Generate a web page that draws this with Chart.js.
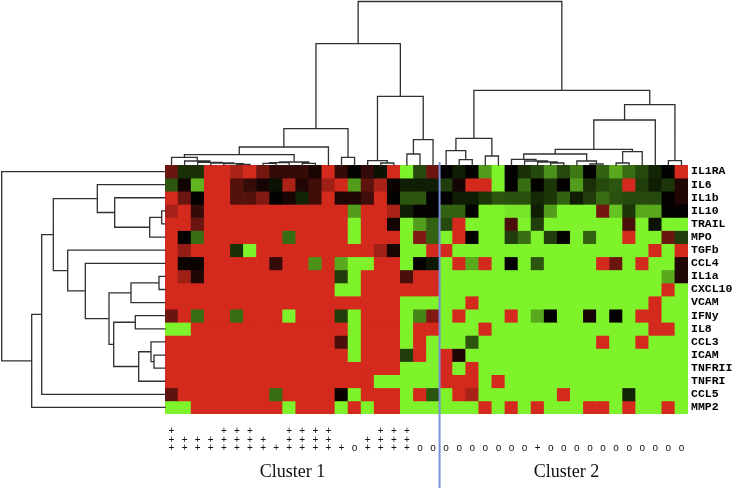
<!DOCTYPE html>
<html><head><meta charset="utf-8">
<script src="https://cdn.jsdelivr.net/npm/chart.js@4.4.1/dist/chart.umd.min.js"></script>
<style>html,body{margin:0;padding:0;background:#fff;}canvas{display:block;}</style>
</head><body>
<canvas id="c" width="738" height="488"></canvas>
<script>
// ---------- DATA ----------
const genes = ["IL1RA","IL6","IL1b","IL10","TRAIL","MPO","TGFb","CCL4","IL1a","CXCL10","VCAM","IFNy","IL8","CCL3","ICAM","TNFRII","TNFRI","CCL5","MMP2"];

// expression (+1 = red/high, 0 = black, -1 = green/low), rows = genes, cols = samples (dendrogram order)
const rowIL1RA  = [0.5,-0.2,-0.2,1,1,0.8,1,0.55,0.25,0.25,0.25,0.12,1,0.25,0.02,0.25,-0.08,1,-1,-0.3,0.5,0.02,-0.12,0.02,-0.65,-1,0.02,-0.2,-0.3,-0.6,-0.3,-0.5,0.02,-0.4,-0.7,-0.45,-0.3,-0.15,0.02,1];
const rowIL6    = [-0.35,0.08,-0.75,1,1,0.4,0.25,0.1,-0.08,0.8,0.15,0.3,0.75,1,-0.65,0.45,0.8,0.05,-0.12,-0.12,-0.12,-0.25,0.1,1,1,-1,0.02,-0.45,0.02,-0.22,0.02,-0.65,-0.2,-0.3,-0.35,1,-0.25,-0.12,-0.22,0.15];
const rowIL1b   = [1,0.5,0.02,1,1,0.4,0.4,0.6,0.02,0.12,-0.15,0.3,1,0.15,0.15,0.3,1,0.02,-0.35,-0.35,0.02,0.02,-0.12,-0.12,-0.22,-0.35,-0.33,-0.33,-0.17,-0.22,-0.4,-0.12,-0.25,-0.45,-0.33,-0.3,-0.3,-0.3,0.03,0.15];
const rowIL10   = [0.78,1,0.25,1,1,1,1,1,1,1,1,1,1,1,-0.65,1,1,0.8,-0.12,0.03,0.02,-0.4,-0.4,0.02,-1,-1,-0.95,-0.95,-0.12,-0.65,-1,-1,-1,0.55,-0.8,-0.22,-0.7,-0.7,0.02,0.02];
const rowTRAIL  = [1,1,0.5,1,1,1,1,1,1,1,1,1,1,1,-1,1,1,0.08,-1,-0.65,-0.4,-0.3,1,-1,-1,-1,0.35,-1,-0.25,-1,-1,-1,-1,-1,-1,0.35,-1,-0.08,-1,-1];
const rowMPO    = [1,0.02,-0.45,1,1,1,1,1,1,-0.45,1,1,1,1,-1,1,1,1,-1,0.6,-0.4,-1,1,0.02,-1,-1,-0.25,-0.45,-1,-0.25,0.02,-1,-0.4,-1,-1,1,-1,-1,0.5,-0.25];
const rowTGFb   = [1,0.7,1,1,1,-0.2,-1,1,1,1,1,1,1,1,1,1,0.75,0.12,-1,-1,1,1,-1,-1,-1,-1,-1,-1,-1,-1,-1,-1,-1,-1,-1,-1,-1,1,-1,1];
const rowCCL4   = [1,0.05,0.05,1,1,1,1,1,0.25,1,1,-0.6,1,-0.7,-1,-1,1,1,-1,0.02,-0.1,-1,1,-0.7,1,-1,0.02,-1,-0.35,-1,-1,-1,-1,1,0.5,-1,1,-1,-1,0.15];
const rowIL1a   = [1,0.75,0.15,1,1,1,1,1,1,1,1,1,1,-0.25,-1,1,1,1,0.35,1,1,-1,-1,-1,-1,-1,-1,-1,-1,-1,-1,-1,-1,-1,-1,-1,-1,-1,-0.7,0.15];
const rowCXCL10 = [1,1,1,1,1,1,1,1,1,1,1,1,1,-1,-1,1,1,1,1,1,1,-1,-1,-1,-1,-1,-1,-1,-1,-1,-1,-1,-1,-1,-1,-1,-1,-1,1,-1];
const rowVCAM   = [1,1,1,1,1,1,1,1,1,1,1,1,1,1,1,1,1,1,-1,-1,-1,-1,-1,1,-1,-1,-1,-1,-1,-1,-1,-1,-1,-1,-1,-1,-1,1,-1,-1];
const rowIFNy   = [0.5,1,-0.45,1,1,-0.45,1,1,1,-1,1,1,1,-0.25,-1,1,1,1,-1,-0.55,0.6,-1,1,-1,-1,-1,1,-1,-0.7,0.02,-1,-1,0.1,-1,0.02,-1,1,1,-1,-1];
const rowIL8    = [-1,-1,1,1,1,1,1,1,1,1,1,1,1,1,-1,1,1,1,-1,1,1,-1,-1,-1,1,-1,-1,-1,-1,-1,-1,-1,-1,-1,-1,-1,-1,1,1,-1];
const rowCCL3   = [1,1,1,1,1,1,1,1,1,1,1,1,1,0.35,-1,1,1,1,-1,1,-1,-1,-1,-0.35,-1,-1,-1,-1,-1,-1,-1,-1,-1,1,-1,-1,1,-1,-1,-1];
const rowICAM   = [1,1,1,1,1,1,1,1,1,1,1,1,1,1,-1,1,1,1,-0.25,1,-1,1,0.15,-1,-1,-1,-1,-1,-1,-1,-1,-1,-1,-1,-1,-1,-1,-1,-1,-1];
const rowTNFRII = [1,1,1,1,1,1,1,1,1,1,1,1,1,1,1,1,1,1,-1,-1,-1,1,-1,1,-1,-1,-1,-1,-1,-1,-1,-1,-1,-1,-1,-1,-1,-1,-1,-1];
const rowTNFRI  = [1,1,1,1,1,1,1,1,1,1,1,1,1,1,1,1,-1,-1,-1,-1,-1,1,1,1,-1,1,-1,-1,-1,-1,-1,-1,-1,-1,-1,-1,-1,-1,-1,-1];
const rowCCL5   = [0.45,1,1,1,1,1,1,1,-0.45,1,1,1,1,0.05,-1,1,1,1,-1,1,-0.35,-1,1,0.8,-1,-1,-1,-1,-1,-1,1,-1,-1,-1,-1,-0.15,-1,-1,-1,-1];
const rowMMP2   = [-1,-1,1,1,1,1,1,1,1,-1,1,1,1,-1,1,-1,1,1,-1,-1,-1,-1,-1,-1,1,-1,1,-1,1,-1,-1,-1,1,1,-1,1,-1,-1,1,-1];
const expression = [rowIL1RA,rowIL6,rowIL1b,rowIL10,rowTRAIL,rowMPO,rowTGFb,rowCCL4,rowIL1a,rowCXCL10,rowVCAM,rowIFNy,rowIL8,rowCCL3,rowICAM,rowTNFRII,rowTNFRI,rowCCL5,rowMMP2];

// sample annotation symbols (three lines under each column)
const symLine1 = ["+","","","","+","+","+","","","+","+","+","+","","","","+","+","+","","","","","","","","","","","","","","","","","","","","",""];
const symLine2 = ["+","+","+","+","+","+","+","+","","+","+","+","+","","","+","+","+","+","","","","","","","","","","","","","","","","","","","","",""];
const symLine3 = ["+","+","+","+","+","+","+","+","+","+","+","+","+","+","o","+","+","+","+","o","o","o","o","o","o","o","o","o","+","o","o","o","o","o","o","o","o","o","o","o"];

const clusterNames = ["Cluster 1","Cluster 2"];
const clusterLabelAt = [9.25, 30.2];   // column units
const clusterSplit = 20.5;             // boundary between cluster 1 and 2 (column units)

// column dendrogram: [node, left, right, height]; numbers = leaf columns
const colMerges = [
 ["a1",5,6,0.7],["a2",4,"a1",1.3],["a3",3,"a2",2],["a4",2,"a3",2.7],["Q",1,"a4",4],["P",0,"Q",7.7],
 ["n78",7,8,1.7],["n789","n78",9,2.3],["n1011",10,11,1.7],["S","n789","n1011",3],
 ["T","P","S",10.3],["U","T",12,18],["n1314",13,14,7.7],["V","U","n1314",36.3],
 ["n1617",16,17,2],["W",15,"n1617",4.3],["n1819",18,19,11],["X1","n1819",20,25.3],["Y1","W","X1",68.7],
 ["C1","V","Y1",121.3],
 ["n2223",22,23,5.3],["na",21,"n2223",14.3],["n2425",24,25,9],["M5","na","n2425",26.7],
 ["n2930",29,30,2],["n28",28,"n2930",3],["X",27,"n28",4],["L1",26,"X",5.7],
 ["n3233",32,33,1],["R1",31,"n3233",4],["M1","L1","R1",11],
 ["n3435",34,35,2],["R2","n3435",36,13.3],["M2","M1","R2",15.7],["M3","M2",37,45],
 ["n3839",38,39,4.3],["M4","M3","n3839",60.3],["C2","M5","M4",74.7],
 ["root","C1","C2",163.5]
];
// row dendrogram: numbers = leaf rows
const rowMerges = [
 ["A4",3,4,3.3],["A3","A4",5,15.3],["A2",2,"A3",50.3],["A",1,"A2",67.7],
 ["B6",8,9,6],["B4","B6",10,34],["B7",11,12,29.7],["B10",14,15,11],["B9",13,"B10",14],
 ["B8","B9",16,26.3],["B5","B7","B8",51.3],["B3","B4","B5",56],["B2",7,"B3",79.7],["B",6,"B2",97.3],
 ["Z3","A","B",111.7],["Z2","Z3",17,123.3],["Z","Z2",18,133.3],["Lroot",0,"Z",163.3]
];

// ---------- helpers ----------
function cellColor(v){
  if (v >= 0) return `rgb(${Math.round(212*v)},${Math.round(42*v)},${Math.round(30*v)})`;
  const a = -v;
  return `rgb(${Math.round(126*a)},${Math.round(242*a)},${Math.round(42*a)})`;
}
function dendroSegments(merges){
  const nodes = {};
  const get = k => (typeof k === 'number') ? {p:k, h:0} : nodes[k];
  const segs = [];
  merges.forEach(([name,l,r,h]) => {
    const L = get(l), R = get(r);
    segs.push([L.p, L.h],[L.p, h],[R.p, h],[R.p, R.h], null);
    nodes[name] = {p:(L.p+R.p)/2, h:h};
  });
  return segs;
}
const colSeg = dendroSegments(colMerges).map(s => s ? {x:s[0], y:s[1]} : {x:null, y:null});
const rowSeg = dendroSegments(rowMerges).map(s => s ? {x:s[1], y:s[0]+0.5} : {x:null, y:null});

const nCols = expression[0].length;
const colLabels = [];
for (let i = 0; i < nCols; i++) colLabels.push([symLine1[i], symLine2[i], symLine3[i]]);

const datasets = expression.map((row, r) => ({
  type: 'bar',
  data: row.map(() => [r, r + 1]),
  backgroundColor: row.map(cellColor),
  borderWidth: 0,
  grouped: false,
  barPercentage: 1,
  categoryPercentage: 1,
  xAxisID: 'x', yAxisID: 'y',
  order: 5
}));
const lineStyle = {type:'line', borderColor:'#303030', borderWidth:1.3, pointRadius:0, fill:false,
  tension:0, spanGaps:false, clip:false, borderCapStyle:'square', borderJoinStyle:'miter'};
datasets.push(Object.assign({}, lineStyle, {data: colSeg, xAxisID:'xd', yAxisID:'yt', order:1}));
datasets.push(Object.assign({}, lineStyle, {data: rowSeg, xAxisID:'xl', yAxisID:'y', order:1}));
datasets.push(Object.assign({}, lineStyle, {data:[{x:clusterSplit,y:2},{x:clusterSplit,y:-330}],
  borderColor:'#7890d6', borderWidth:2, xAxisID:'xd', yAxisID:'yt', order:0}));

const noGrid = {display:false, drawTicks:false, tickLength:0, offset:false};
new Chart(document.getElementById('c'), {
  type: 'bar',
  data: { labels: colLabels, datasets },
  options: {
    responsive:false, animation:false, devicePixelRatio:1,
    layout:{padding:{left:165, top:165, right:0, bottom:0}},
    plugins:{legend:{display:false}, tooltip:{enabled:false}},
    scales:{
      x:{type:'category', offset:true, position:'bottom', weight:0, grid:noGrid, border:{display:false},
         ticks:{autoSkip:false, maxRotation:0, minRotation:0, padding:12.6, color:'#111',
                font:{family:'Liberation Sans', size:10, lineHeight:'8.8px'}},
         afterFit(s){ s.height = 44; }},
      x2:{type:'linear', offset:false, position:'bottom', weight:1, min:-0.5, max:39.5, grid:noGrid, border:{display:false},
         afterBuildTicks(s){ s.ticks = clusterLabelAt.map(v => ({value:v})); },
         ticks:{autoSkip:false, maxRotation:0, padding:3.2, color:'#111',
                font:{family:'Liberation Serif', size:18}, callback:(v,i)=>clusterNames[i]},
         afterFit(s){ s.height = 30; }},
      y:{type:'linear', offset:false, position:'right', min:0, max:19, reverse:true, grid:noGrid, border:{display:false},
         afterBuildTicks(s){ s.ticks = genes.map((g,i)=>({value:i+0.5})); },
         ticks:{autoSkip:false, padding:3, color:'#000',
                font:{family:'Liberation Mono', size:11.5, weight:'bold'}, callback:(v,i)=>genes[i]},
         afterFit(s){ s.width = 50; }},
      xd:{type:'linear', offset:false, display:false, min:-0.5, max:39.5},
      yt:{type:'linear', offset:false, display:false, min:-249, max:0},
      xl:{type:'linear', offset:false, display:false, min:-523, max:0, reverse:true}
    }
  }
});
</script>
</body></html>
